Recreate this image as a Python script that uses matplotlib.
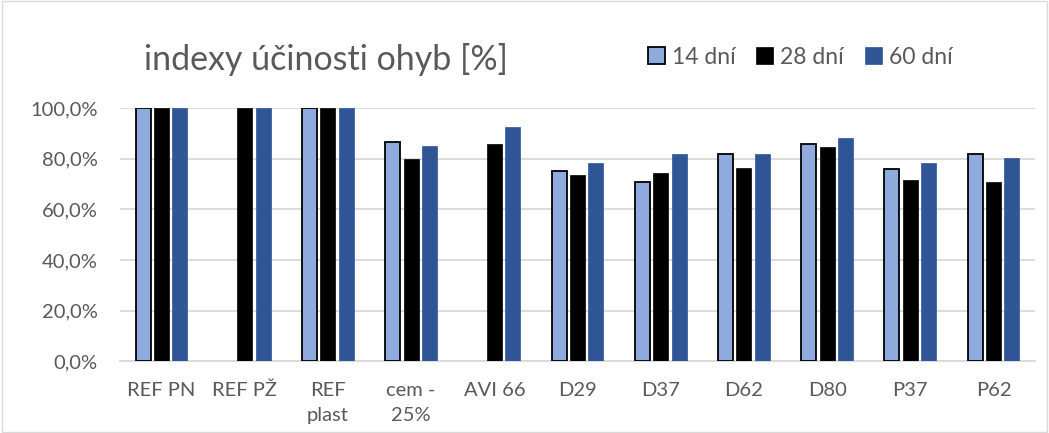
import numpy as np
import matplotlib.pyplot as plt
from matplotlib.ticker import FuncFormatter

# data
categories = ['REF PN', 'REF PŽ', 'REF\nplast', 'cem -\n25%', 'AVI 66',
              'D29', 'D37', 'D62', 'D80', 'P37', 'P62']
series_names = ['14 dní', '28 dní', '60 dní']
d14 = [1.000, np.nan, 1.000, 0.868, np.nan, 0.750, 0.709, 0.820, 0.859, 0.759, 0.820]
d28 = [1.000, 1.000, 1.000, 0.800, 0.859, 0.737, 0.745, 0.764, 0.847, 0.717, 0.709]
d60 = [1.000, 1.000, 1.000, 0.851, 0.925, 0.783, 0.820, 0.820, 0.883, 0.783, 0.801]

plt.rcParams['font.family'] = ['Lato', 'DejaVu Sans']
grey = '#595959'

fig = plt.figure(figsize=(10.49, 4.33), dpi=100)
ax = fig.add_axes([0.1144, 0.166, 0.8723, 0.5843])

x = np.arange(len(categories))
w = 0.18
step = 0.22
ax.bar(x - step, d14, w, color='#8FAADC', edgecolor='black', linewidth=1.3,
       label=series_names[0], zorder=3)
ax.bar(x, d28, w, color='black', edgecolor='black', linewidth=0.5,
       label=series_names[1], zorder=3)
ax.bar(x + step, d60, w, color='#2F5597', edgecolor='#2F5597', linewidth=0.5,
       label=series_names[2], zorder=3)

ax.set_xlim(-0.5, len(categories) - 0.5)
ax.set_ylim(0, 1.0)
ax.set_yticks(np.arange(0, 1.01, 0.2))
ax.yaxis.set_major_formatter(FuncFormatter(lambda v, p: f'{v*100:.1f}%'.replace('.', ',')))
ax.set_xticks(x)
ax.set_xticklabels(categories, va='top', linespacing=1.6)
ax.tick_params(axis='both', length=0, colors=grey, labelsize=14.5)
ax.tick_params(axis='x', pad=15)
ax.tick_params(axis='y', pad=16)
ax.grid(axis='y', color='#D9D9D9', linewidth=1.3, zorder=0)
for s in ['top', 'right', 'left']:
    ax.spines[s].set_visible(False)
ax.spines['bottom'].set_color('#D9D9D9')
ax.spines['bottom'].set_linewidth(1.3)

fig.text(0.137, 0.862, 'indexy účinosti ohyb [%]', fontsize=24.5, color=grey,
         va='center', ha='left')
leg = fig.legend(loc='center left', bbox_to_anchor=(0.598, 0.868), ncol=3,
                 frameon=False, fontsize=16.5, handlelength=0.75, handleheight=0.75,
                 handletextpad=0.3, columnspacing=0.9)
for t in leg.get_texts():
    t.set_color(grey)

# thin frame around the whole chart
fig.patches.append(plt.Rectangle((0.002, 0.003), 0.996, 0.994, transform=fig.transFigure,
                                 fill=False, edgecolor='#D9D9D9', linewidth=1))

fig.savefig('out.png', dpi=100)
